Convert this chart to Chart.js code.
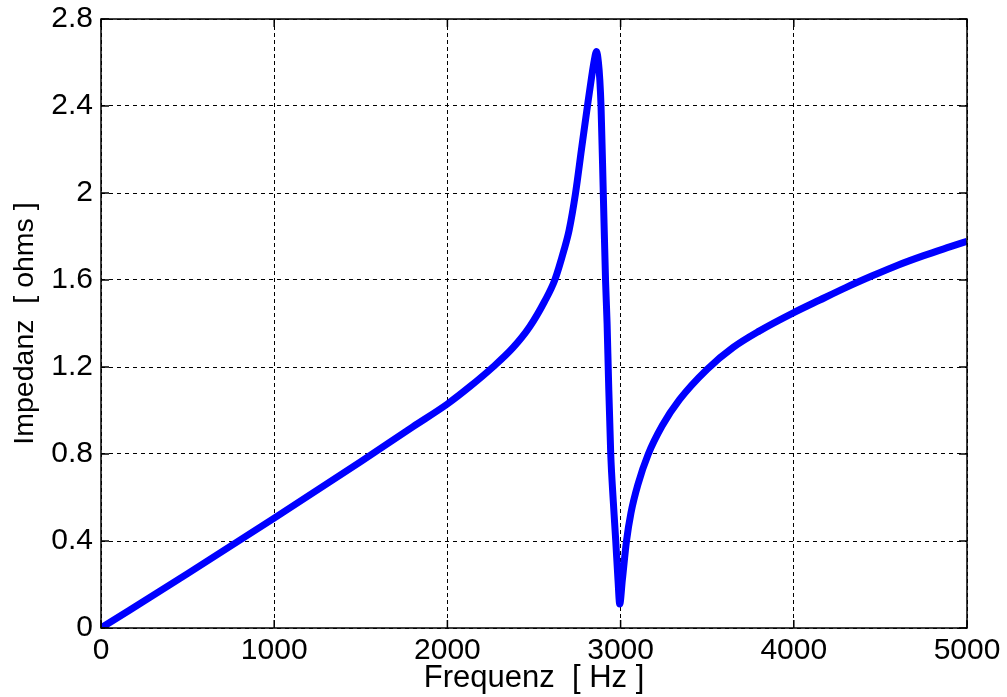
<!DOCTYPE html>
<html>
<head>
<meta charset="utf-8">
<script src="https://cdn.jsdelivr.net/npm/chart.js@4/dist/chart.umd.min.js"></script>
<style>
  html, body { margin: 0; padding: 0; background: #fff; }
  #wrap { width: 1007px; height: 697px; }
</style>
</head>
<body>
<div id="wrap"><canvas id="impedanz" width="1007" height="697"></canvas></div>
<script>
// data
var freqs = [0, 500, 1000, 1500, 1800, 2000, 2130, 2263, 2380, 2475, 2560, 2620, 2674, 2703,
    2740, 2774, 2812, 2832, 2848, 2861, 2872, 2880, 2887, 2900, 2913, 2922, 2930, 2943, 2958, 2972, 2985, 2995,
    3010, 3034, 3060, 3100, 3160, 3240, 3340, 3500, 3650, 3800, 4000, 4150, 4300, 4450, 4600, 4750, 4900, 5000];
var impedanz = [0, 0.25, 0.505, 0.765, 0.925, 1.03, 1.11, 1.2, 1.29, 1.385, 1.5, 1.6, 1.74, 1.83,
    2.0, 2.2, 2.42, 2.53, 2.61, 2.65, 2.6, 2.52, 2.4, 2.0, 1.6, 1.4, 1.15, 0.8, 0.58, 0.4, 0.22, 0.11,
    0.22, 0.4, 0.53, 0.66, 0.8, 0.93, 1.05, 1.19, 1.29, 1.365, 1.45, 1.508, 1.565, 1.618, 1.668, 1.712, 1.752, 1.778];
var xTicks = [0, 1000, 2000, 3000, 4000, 5000];
var xTickLabels = ['0', '1000', '2000', '3000', '4000', '5000'];
var yTicks = [0, 0.4, 0.8, 1.2, 1.6, 2, 2.4, 2.8];
var yTickLabels = ['0', '0.4', '0.8', '1.2', '1.6', '2', '2.4', '2.8'];

var fontFam = "'Liberation Sans', Arial, sans-serif";
Chart.defaults.font.family = fontFam;
Chart.defaults.font.size = 30;
Chart.defaults.color = '#000';

// matlab style box with inward ticks
var boxPlugin = {
    id: 'box',
    afterDraw: function (chart) {
        var ctx = chart.ctx, a = chart.chartArea;
        var xs = chart.scales.x, ys = chart.scales.y;
        ctx.save();
        ctx.strokeStyle = '#000';
        ctx.lineWidth = 1.5;
        ctx.strokeRect(a.left, a.top, a.right - a.left, a.bottom - a.top);
        ctx.beginPath();
        xTicks.forEach(function (v) {
            var px = xs.getPixelForValue(v);
            ctx.moveTo(px, a.bottom); ctx.lineTo(px, a.bottom - 8);
            ctx.moveTo(px, a.top); ctx.lineTo(px, a.top + 8);
        });
        yTicks.forEach(function (v) {
            var py = ys.getPixelForValue(v);
            ctx.moveTo(a.left, py); ctx.lineTo(a.left + 8, py);
            ctx.moveTo(a.right, py); ctx.lineTo(a.right - 8, py);
        });
        ctx.stroke();
        ctx.restore();
    }
};

var points = freqs.map(function (f, i) { return { x: f, y: impedanz[i] }; });

new Chart(document.getElementById('impedanz'), {
    type: 'line',
    data: {
        datasets: [{
            data: points,
            borderColor: '#0000ff',
            borderWidth: 7,
            pointRadius: 0,
            cubicInterpolationMode: 'monotone',
            fill: false
        }]
    },
    options: {
        responsive: false,
        animation: false,
        layout: { padding: { left: 0, right: 40, top: 19, bottom: 0 } },
        plugins: { legend: { display: false }, tooltip: { enabled: false } },
        scales: {
            x: {
                type: 'linear',
                min: 0, max: 5000,
                afterBuildTicks: function (s) { s.ticks = xTicks.map(function (v) { return { value: v }; }); },
                afterFit: function (s) { s.height = 69; s.paddingLeft = 0; s.paddingRight = 0; },
                ticks: {
                    autoSkip: false, maxRotation: 0, padding: 5,
                    callback: function (v) { return xTickLabels[xTicks.indexOf(v)]; }
                },
                grid: { color: '#000', lineWidth: 1, drawTicks: false },
                border: { display: false, dash: [4, 3] },
                title: { display: true, text: 'Frequenz  [ Hz ]', font: { size: 31 }, padding: { top: 0, bottom: 0 } }
            },
            y: {
                min: 0, max: 2.8,
                afterBuildTicks: function (s) { s.ticks = yTicks.map(function (v) { return { value: v }; }); },
                afterFit: function (s) { s.width = 101; s.paddingTop = 0; s.paddingBottom = 0; },
                ticks: {
                    padding: 8,
                    callback: function (v) {
                        var i = yTicks.findIndex(function (t) { return Math.abs(t - v) < 1e-6; });
                        return yTickLabels[i];
                    }
                },
                grid: { color: '#000', lineWidth: 1, drawTicks: false },
                border: { display: false, dash: [4, 4] },
                title: { display: true, text: 'Impedanz  [ ohms ]', font: { size: 28.5 }, padding: { top: 8, bottom: 0 } }
            }
        }
    },
    plugins: [boxPlugin]
});
</script>
</body>
</html>
